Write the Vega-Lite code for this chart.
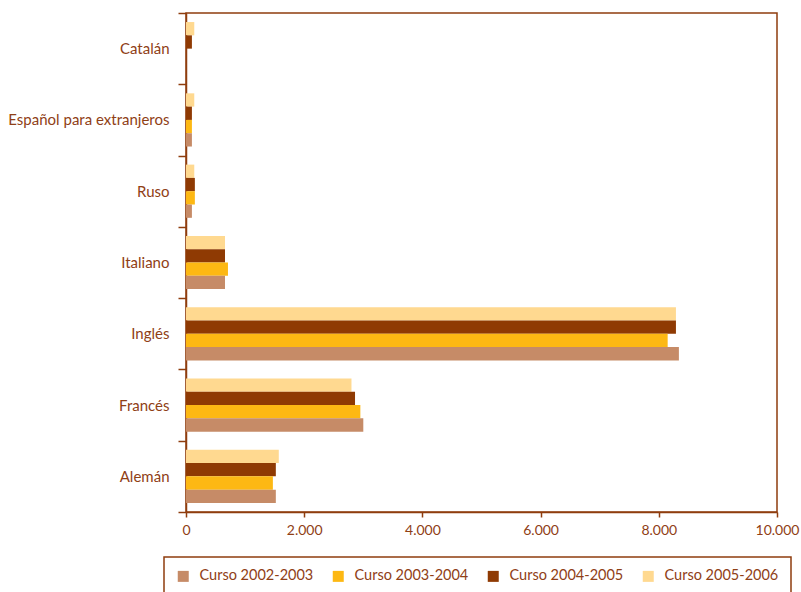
{
  "$schema": "https://vega.github.io/schema/vega-lite/v6.json",
  "width": 591,
  "height": 499,
  "autosize": {"type": "none"},
  "padding": {"left": 186, "top": 13, "right": 24, "bottom": 80},
  "background": "white",
  "config": {
    "font": "Lato",
    "locale": {"number": {"decimal": ",", "thousands": ".", "grouping": [3], "currency": ["", " €"]}},
    "view": {"stroke": "#8F3D0E", "strokeWidth": 1.5},
    "axis": {"grid": false, "domainColor": "#8F3D0E", "tickColor": "#8F3D0E", "labelColor": "#8F4016", "labelFont": "Lato", "labelFontSize": 14, "domainWidth": 1.5, "tickWidth": 1.5, "title": null},
    "legend": {"labelFont": "Lato", "labelFontSize": 14.5, "labelColor": "#8F4016"}
  },
  "data": {
    "values": [
      {"idioma": "Catalán", "curso": "Curso 2005-2006", "alumnos": 140},
      {"idioma": "Catalán", "curso": "Curso 2004-2005", "alumnos": 100},
      {"idioma": "Español para extranjeros", "curso": "Curso 2005-2006", "alumnos": 140},
      {"idioma": "Español para extranjeros", "curso": "Curso 2004-2005", "alumnos": 100},
      {"idioma": "Español para extranjeros", "curso": "Curso 2003-2004", "alumnos": 100},
      {"idioma": "Español para extranjeros", "curso": "Curso 2002-2003", "alumnos": 100},
      {"idioma": "Ruso", "curso": "Curso 2005-2006", "alumnos": 140},
      {"idioma": "Ruso", "curso": "Curso 2004-2005", "alumnos": 150},
      {"idioma": "Ruso", "curso": "Curso 2003-2004", "alumnos": 150},
      {"idioma": "Ruso", "curso": "Curso 2002-2003", "alumnos": 100},
      {"idioma": "Italiano", "curso": "Curso 2005-2006", "alumnos": 660},
      {"idioma": "Italiano", "curso": "Curso 2004-2005", "alumnos": 660},
      {"idioma": "Italiano", "curso": "Curso 2003-2004", "alumnos": 710},
      {"idioma": "Italiano", "curso": "Curso 2002-2003", "alumnos": 660},
      {"idioma": "Inglés", "curso": "Curso 2005-2006", "alumnos": 8290},
      {"idioma": "Inglés", "curso": "Curso 2004-2005", "alumnos": 8290},
      {"idioma": "Inglés", "curso": "Curso 2003-2004", "alumnos": 8150},
      {"idioma": "Inglés", "curso": "Curso 2002-2003", "alumnos": 8340},
      {"idioma": "Francés", "curso": "Curso 2005-2006", "alumnos": 2800},
      {"idioma": "Francés", "curso": "Curso 2004-2005", "alumnos": 2860},
      {"idioma": "Francés", "curso": "Curso 2003-2004", "alumnos": 2950},
      {"idioma": "Francés", "curso": "Curso 2002-2003", "alumnos": 3000},
      {"idioma": "Alemán", "curso": "Curso 2005-2006", "alumnos": 1570},
      {"idioma": "Alemán", "curso": "Curso 2004-2005", "alumnos": 1520},
      {"idioma": "Alemán", "curso": "Curso 2003-2004", "alumnos": 1470},
      {"idioma": "Alemán", "curso": "Curso 2002-2003", "alumnos": 1520}
    ]
  },
  "mark": {"type": "bar", "cornerRadius": 0},
  "encoding": {
    "y": {
      "field": "idioma", "type": "nominal",
      "sort": ["Catalán", "Español para extranjeros", "Ruso", "Italiano", "Inglés", "Francés", "Alemán"],
      "scale": {"paddingInner": 0, "paddingOuter": 0},
      "axis": {"tickBand": "extent", "tickSize": 8, "labelPadding": 9, "labelLimit": 300, "labelFontSize": 15}
    },
    "yOffset": {
      "field": "curso", "type": "nominal",
      "scale": {"domain": ["Curso 2005-2006", "Curso 2004-2005", "Curso 2003-2004", "Curso 2002-2003"], "paddingInner": 0, "paddingOuter": 0.68}
    },
    "x": {
      "field": "alumnos", "type": "quantitative",
      "scale": {"domain": [0, 10000], "nice": false},
      "axis": {"values": [0, 2000, 4000, 6000, 8000, 10000], "format": ",.0f", "tickSize": 5, "labelPadding": 6, "labelFlush": false}
    },
    "color": {
      "field": "curso", "type": "nominal",
      "scale": {
        "domain": ["Curso 2002-2003", "Curso 2003-2004", "Curso 2004-2005", "Curso 2005-2006"],
        "range": ["#C68B67", "#FDB813", "#8F3A03", "#FFD990"]
      },
      "legend": {
        "title": null, "orient": "none", "legendX": -22, "legendY": 544,
        "direction": "horizontal", "columns": 4,
        "symbolType": "square", "symbolSize": 121, "symbolStrokeWidth": 0,
        "labelOffset": 9, "columnPadding": 17, "padding": 12,
        "strokeColor": "#8F3D0E",
        "encode": {"legend": {"update": {"strokeWidth": {"value": 1.5}}}}
      }
    }
  }
}
